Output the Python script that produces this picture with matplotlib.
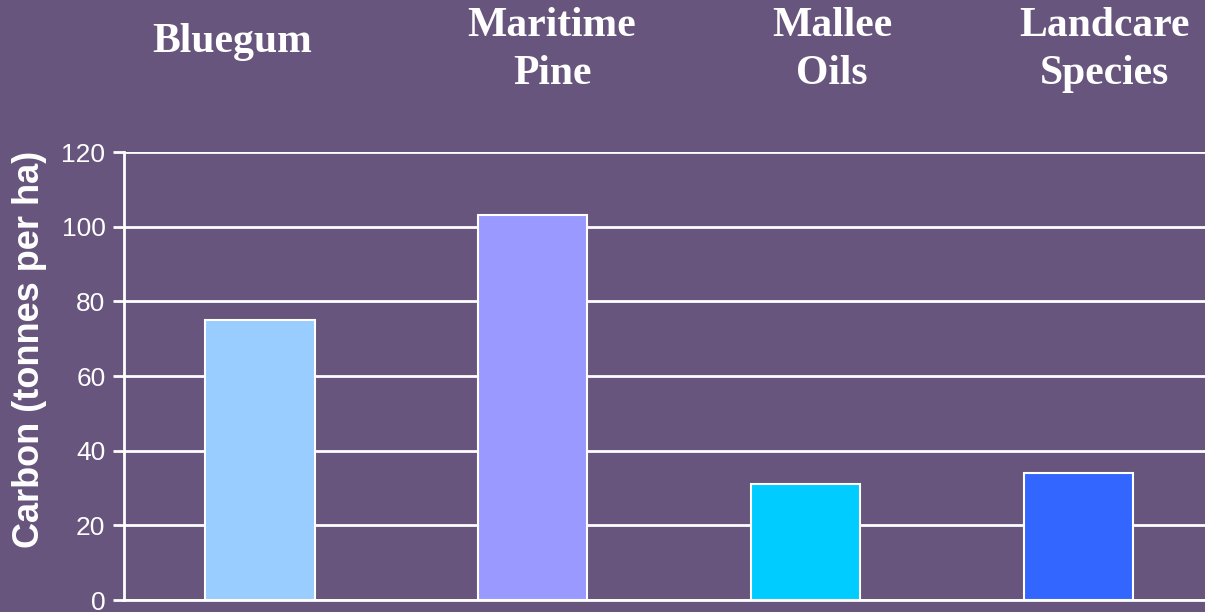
import matplotlib.pyplot as plt

categories = ["Bluegum", "Maritime\nPine", "Mallee\nOils", "Landcare\nSpecies"]
carbon = [75, 103, 31, 34]
bar_colors = ["#99CCFF", "#9999FF", "#00CCFF", "#3366FF"]
yticks = [0, 20, 40, 60, 80, 100, 120]

bg = "#67557D"

fig = plt.figure(figsize=(12.05, 6.12), dpi=100, facecolor=bg)
ax = fig.add_axes([0.1025, 0.0196, 0.906, 0.732])
ax.set_facecolor("none")

x = range(len(categories))
ax.bar(x, carbon, width=0.40, color=bar_colors, edgecolor="white", linewidth=1.5, zorder=3)

ax.set_xlim(-0.5, 3.5)
ax.set_ylim(0, 120)
ax.set_yticks(yticks)
ax.set_xticks([])
ax.grid(axis="y", color="white", linewidth=2, zorder=1)
for s in ["top", "right"]:
    ax.spines[s].set_visible(False)
ax.spines["left"].set_color("white")
ax.spines["left"].set_linewidth(2)
ax.spines["bottom"].set_color("white")
ax.spines["bottom"].set_linewidth(2)
ax.tick_params(axis="y", colors="white", labelsize=19, length=8, width=2, pad=5)
for lbl in ax.get_yticklabels():
    lbl.set_fontfamily("Liberation Sans")

# category headings along the top
label_x = [232, 552, 832, 1104]
label_y = [42, 50, 50, 50]
for name, px, py in zip(categories, label_x, label_y):
    fig.text(px / 1205, 1 - py / 612, name, ha="center", va="center",
             color="white", fontsize=30, fontweight="bold",
             fontfamily="Liberation Serif", linespacing=1.35)

fig.text(30 / 1205, 1 - 349 / 612, "Carbon (tonnes per ha)", rotation=90,
         ha="center", va="center", color="white", fontsize=26,
         fontweight="bold", fontfamily="Liberation Sans")

fig.savefig("out.png", dpi=100, facecolor=bg)
